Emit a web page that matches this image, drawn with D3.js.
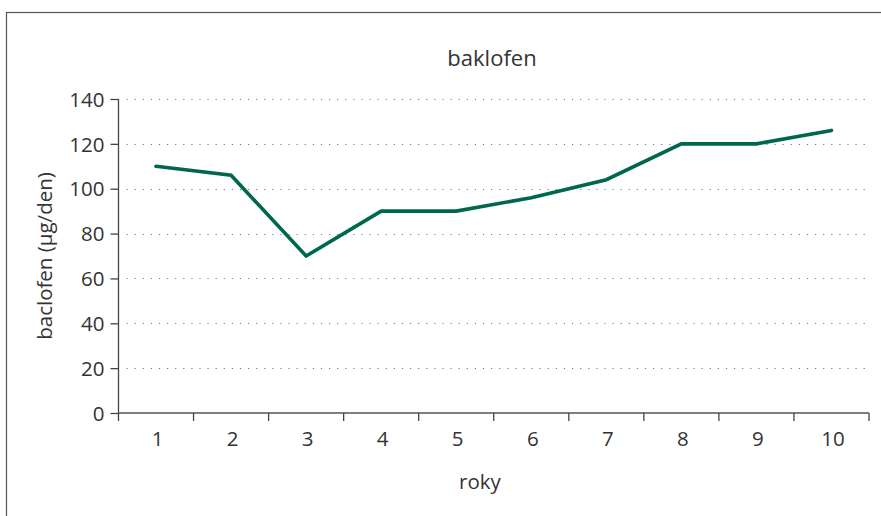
<!DOCTYPE html>
<html>
<head>
<meta charset="utf-8">
<script src="https://cdn.jsdelivr.net/npm/d3@7"></script>
<style>
  html, body { margin: 0; padding: 0; background: #fff; }
  svg { display: block; }
  text { font-family: "Open Sans", "Noto Sans", sans-serif; fill: #333; }
</style>
</head>
<body>
<svg id="chart" width="881" height="516"></svg>
<script>
const years = ["1", "2", "3", "4", "5", "6", "7", "8", "9", "10"];
const values = [110, 106, 70, 90, 90, 96, 104, 120, 120, 126];
const yTicks = [0, 20, 40, 60, 80, 100, 120, 140];
const title = "baklofen";
const xTitle = "roky";
const yTitle = "baclofen (µg/den)";

(function () {
const W = 881, H = 516;
const mLeft = 118.5, mRight = 869, mTop = 99, mBottom = 413;
const svg = d3.select("#chart");

// outer frame
svg.append("rect")
  .attr("x", 6.5).attr("y", 12.5)
  .attr("width", W + 20).attr("height", H + 20)
  .attr("fill", "none").attr("stroke", "#555").attr("stroke-width", 1.2);

const x = d3.scaleBand().domain(years).range([mLeft, mRight]).paddingInner(0).paddingOuter(0);
const y = d3.scaleLinear().domain([0, 140]).range([mBottom, mTop]);

// gridlines
svg.append("g").selectAll("line")
  .data(yTicks.filter(d => d > 0))
  .join("line")
  .attr("x1", mLeft + 8).attr("x2", mRight - 4)
  .attr("y1", d => Math.round(y(d)) + 0.5).attr("y2", d => Math.round(y(d)) + 0.5)
  .attr("stroke", "#777").attr("stroke-width", 1)
  .attr("stroke-dasharray", "1.2,6.9");

// y axis
const yAxis = d3.axisLeft(y).tickValues(yTicks).tickSize(8).tickPadding(6).tickSizeOuter(0);
const gy = svg.append("g").attr("transform", `translate(${mLeft},0)`).call(yAxis);
gy.select(".domain").remove();
gy.append("line").attr("x1", 0).attr("x2", 0).attr("y1", mTop).attr("y2", mBottom + 8)
  .attr("stroke", "#444").attr("stroke-width", 1.3);
gy.selectAll(".tick line").attr("stroke", "#444").attr("stroke-width", 1.3);
gy.selectAll(".tick text").attr("font-size", 20.5).attr("fill", "#333")
  .attr("font-family", "'Open Sans', sans-serif").attr("dy", "0.35em");

// x axis
const gx = svg.append("g").attr("transform", `translate(0,${mBottom})`);
gx.append("line").attr("x1", mLeft).attr("x2", mRight).attr("y1", 0).attr("y2", 0)
  .attr("stroke", "#555").attr("stroke-width", 1.5);
const boundaries = years.map(d => x(d) + x.bandwidth());
gx.selectAll("line.tk").data(boundaries).join("line").attr("class", "tk")
  .attr("x1", d => d).attr("x2", d => d).attr("y1", 0).attr("y2", 8)
  .attr("stroke", "#444").attr("stroke-width", 1.3);
gx.selectAll("text").data(years).join("text")
  .attr("x", d => x(d) + x.bandwidth() / 2 + 1.5)
  .attr("y", 33)
  .attr("text-anchor", "middle")
  .attr("font-size", 20.5)
  .text(d => d);

// line
const line = d3.line()
  .x((d, i) => x(years[i]) + x.bandwidth() / 2)
  .y(d => y(d));
svg.append("path").datum(values)
  .attr("d", line)
  .attr("fill", "none")
  .attr("stroke", "#00674f")
  .attr("stroke-width", 3.6)
  .attr("stroke-linejoin", "miter")
  .attr("stroke-linecap", "round");

// titles
svg.append("text").attr("x", 492).attr("y", 66).attr("text-anchor", "middle")
  .attr("font-size", 22).attr("fill", "#222").text(title);
svg.append("text").attr("x", 480).attr("y", 489).attr("text-anchor", "middle")
  .attr("font-size", 20.5).text(xTitle);
svg.append("text").attr("transform", "translate(52,256) rotate(-90)")
  .attr("text-anchor", "middle").attr("font-size", 20.5).text(yTitle);
})();
</script>
</body>
</html>
